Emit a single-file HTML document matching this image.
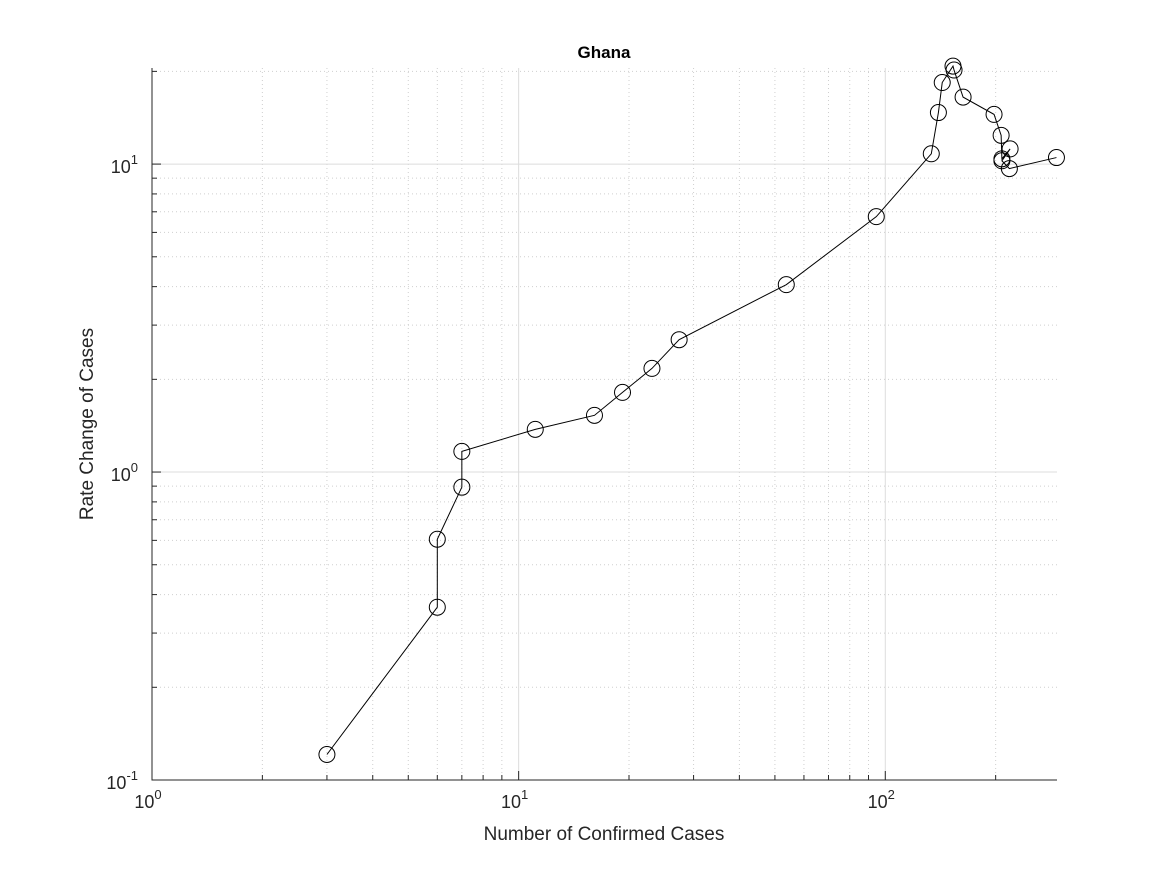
<!DOCTYPE html>
<html><head><meta charset="utf-8"><style>
body{margin:0;background:#fff;}
svg{display:block;font-family:"Liberation Sans",Arial,sans-serif;}
</style></head><body>
<svg id="chart" width="1167" height="875">
<rect width="1167" height="875" fill="#fff"/>
<g id="grid"></g>
<g id="axes"></g>
<g id="series"></g>
<text x="604" y="58" text-anchor="middle" font-weight="bold" font-size="17">Ghana</text>
<text x="604" y="840" text-anchor="middle" font-size="19" fill="#262626">Number of Confirmed Cases</text>
<text transform="translate(93,424) rotate(-90)" text-anchor="middle" font-size="19" fill="#262626">Rate Change of Cases</text>
</svg>
<script>
const casesX = [3, 6, 6, 7, 7, 11.1, 16.1, 19.2, 23.1, 27.4, 53.7, 94.5, 133.5, 139.6, 143, 153, 154, 163, 198, 207, 208, 219, 208, 218, 293];
const rateY = [0.121, 0.364, 0.605, 0.893, 1.167, 1.376, 1.528, 1.814, 2.17, 2.69, 4.06, 6.75, 10.8, 14.7, 18.4, 20.8, 20.2, 16.5, 14.5, 12.4, 10.4, 11.2, 10.25, 9.67, 10.5];
const xTickExp = [0, 1, 2];
const yTickExp = [-1, 0, 1];
const L=152,R=1057,T=68,B=780;
const xMin=0,xMax=Math.log10(294),yMin=-1,yMax=1.312;
const sx=v=>L+(Math.log10(v)-xMin)/(xMax-xMin)*(R-L);
const sy=v=>B-(Math.log10(v)-yMin)/(yMax-yMin)*(B-T);
const NS="http://www.w3.org/2000/svg";
function mk(tag,attrs,parent){const e=document.createElementNS(NS,tag);for(const k in attrs)e.setAttribute(k,attrs[k]);parent.appendChild(e);return e;}
const grid=document.getElementById('grid'),axes=document.getElementById('axes'),series=document.getElementById('series');
// x grid
for(let d=0;d<=2;d++){for(let m=1;m<=9;m++){const v=m*Math.pow(10,d);if(v>294)continue;const x=sx(v);
 const ln=mk('line',{x1:x,x2:x,y1:T,y2:B,stroke:m===1?'#dcdcdc':'#cfcfcf','stroke-width':1,'stroke-dasharray':m===1?'':'1,3'},grid);
 
 
 const tk=mk('line',{x1:x,x2:x,y1:B,y2:B-(m===1?9:5),stroke:'#262626'},axes);
 
 }}
for(let d=-1;d<=1;d++){for(let m=1;m<=9;m++){const v=m*Math.pow(10,d);if(Math.log10(v)>yMax)continue;const y=sy(v);
 const ln=mk('line',{x1:L,x2:R,y1:y,y2:y,stroke:m===1?'#dcdcdc':'#cfcfcf','stroke-width':1,'stroke-dasharray':m===1?'':'1,3'},grid);
 
 
 const tk=mk('line',{x1:L,x2:L+(m===1?9:5),y1:y,y2:y,stroke:'#262626'},axes);
 
 }}
const ax=mk('path',{d:`M${L},${T}V${B}H${R}`,fill:'none',stroke:'#262626','stroke-width':1},axes);


xTickExp.forEach(e=>{const x=sx(Math.pow(10,e));
 const t=mk('text',{x:x-4,y:B+28,'text-anchor':'middle','font-size':18,fill:'#262626'},axes);
 t.innerHTML=`10<tspan dy="-9" font-size="13">${e}</tspan>`;
 
 });
yTickExp.forEach(e=>{const y=sy(Math.pow(10,e));
 const t=mk('text',{x:L-14,y:y+9,'text-anchor':'end','font-size':18,fill:'#262626'},axes);
 t.innerHTML=`10<tspan dy="-9" font-size="13">${e}</tspan>`;
 
 });
const pts=casesX.map((v,i)=>[sx(v),sy(rateY[i])]);
const line=mk('polyline',{points:pts.map(p=>p.join(',')).join(' '),fill:'none',stroke:'#000','stroke-width':1},series);


pts.forEach(p=>{const c=mk('circle',{cx:p[0],cy:p[1],r:8,fill:'none',stroke:'#000','stroke-width':1},series);
 
 });
</script>
</body></html>
